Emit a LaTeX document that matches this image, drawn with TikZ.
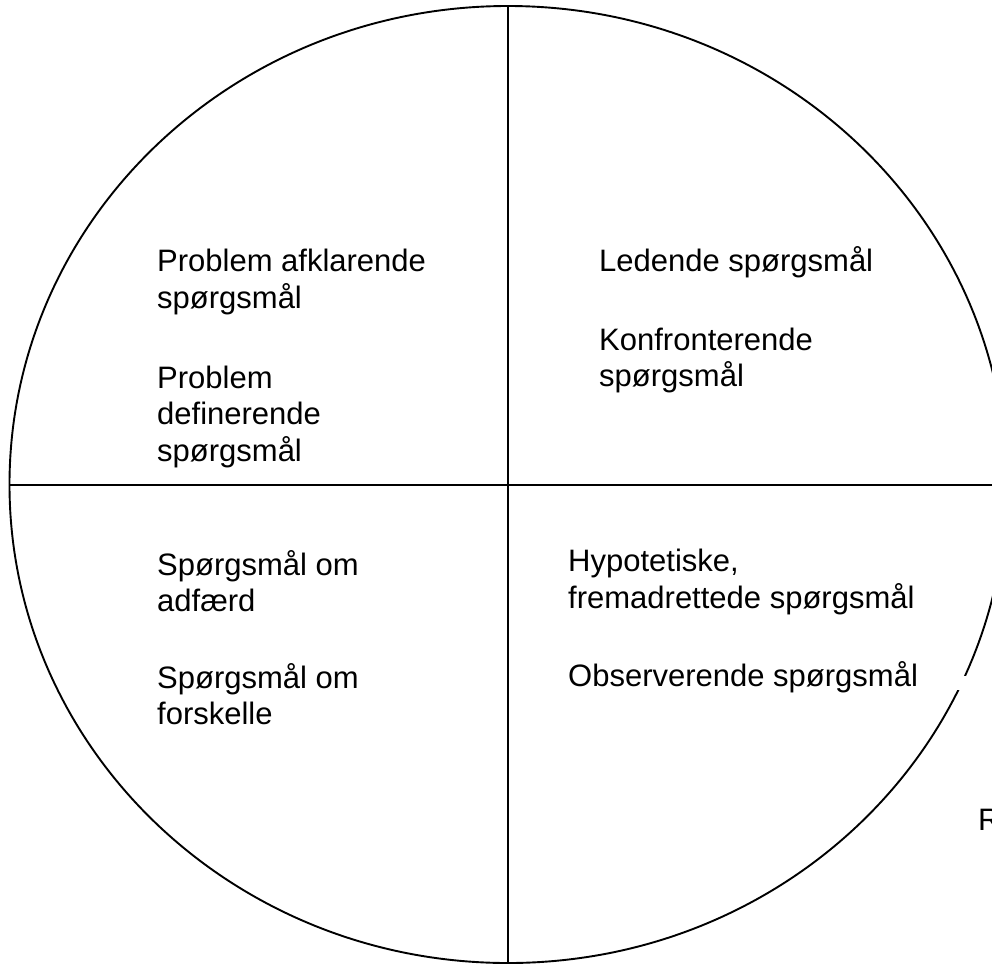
\documentclass[tikz,border=0pt]{standalone}
\usepackage{fontspec}
\setmainfont{Liberation Sans}
\begin{document}
\begin{tikzpicture}[x=1pt,y=-1pt,
  rule/.style={line width=1.9pt,black},
  label/.style={anchor=base west,inner sep=0pt,align=left,
    font=\fontsize{31}{36.7}\selectfont}]
\useasboundingbox (0,0) rectangle (992,964);
\coordinate (c) at (508,484.5);
\draw[rule] (c) ellipse [x radius=498.5, y radius=478.5];
\fill[white] (953,676) rectangle (966,690);
\coordinate (top) at (508,6);
\coordinate (bot) at (508,963);
\coordinate (lft) at (9.5,485);
\coordinate (rgt) at (1000,485);
\draw[rule] (top) -- (bot);
\draw[rule] (lft) -- (rgt);
% base anchor = baseline of the last line
\node[label] (q1a) at (157,308.4) {Problem afklarende\\spørgsmål};
\node[label] (q1b) at (157,461.4) {Problem\\definerende\\spørgsmål};
\node[label] (q2a) at (599,271) {Ledende spørgsmål};
\node[label] (q2b) at (599,386.7) {Konfronterende\\spørgsmål};
\node[label] (q3a) at (157,611.7) {Spørgsmål om\\adfærd};
\node[label] (q3b) at (157,724.7) {Spørgsmål om\\forskelle};
\node[label] (q4a) at (568,608.4) {Hypotetiske,\\fremadrettede spørgsmål};
\node[label] (q4b) at (568,686.7) {Observerende spørgsmål};
\node[label] (r) at (978,830) {R};
\end{tikzpicture}
\end{document}
